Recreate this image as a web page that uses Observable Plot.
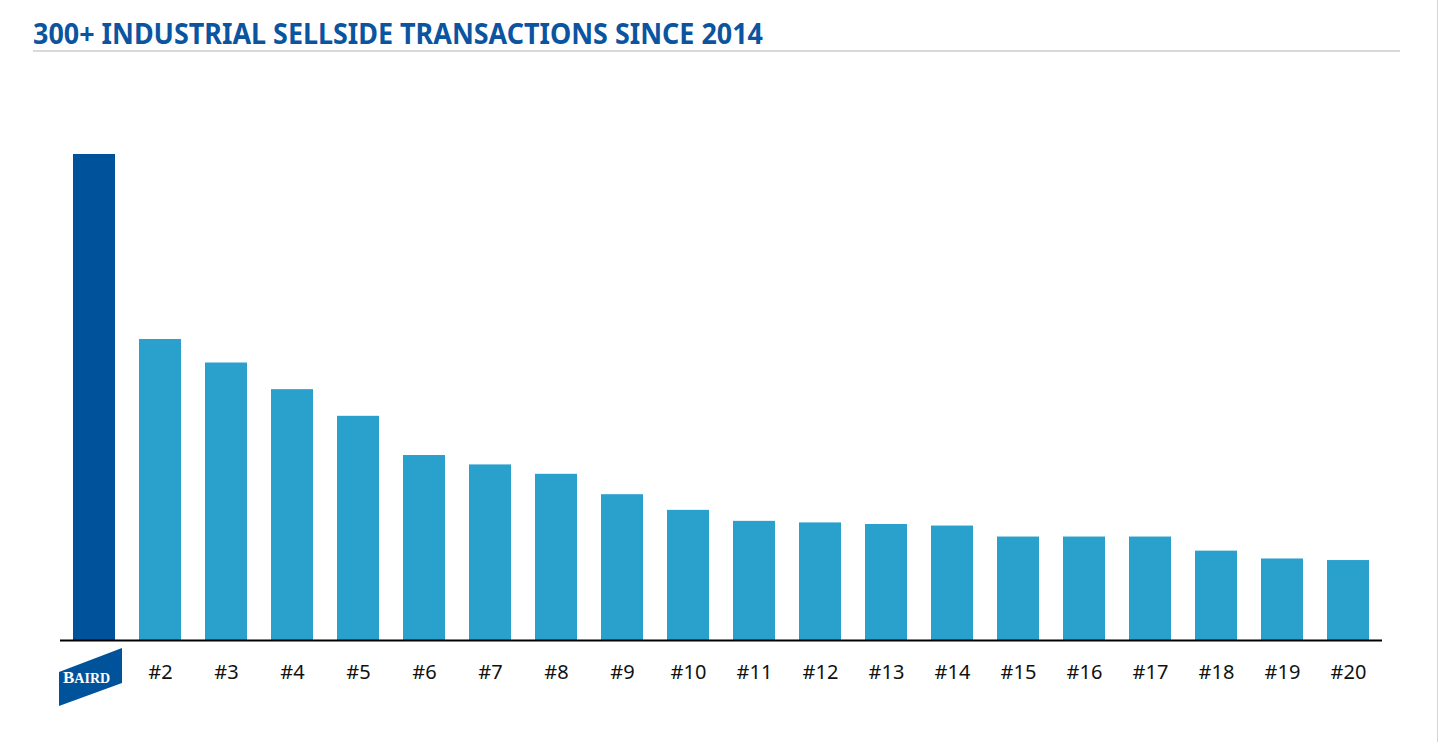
<!DOCTYPE html>
<html><head><meta charset="utf-8">
<script src="https://cdn.jsdelivr.net/npm/d3@7"></script>
<script src="https://cdn.jsdelivr.net/npm/@observablehq/plot@0.6"></script>
<style>
html,body{margin:0;padding:0;background:#fff;}
body{width:1439px;height:742px;overflow:hidden;position:relative;font-family:"Noto Sans",sans-serif;}
#edge{position:absolute;left:1437px;top:0;width:1px;height:742px;background:#d4d4d4;}
svg{display:block;}
</style>
</head><body>
<svg id="head" width="1439" height="60">
  <text x="33" y="44" font-family="Noto Sans" font-weight="bold" font-size="29" fill="#0b54a0" textLength="730" lengthAdjust="spacingAndGlyphs">300+ INDUSTRIAL SELLSIDE TRANSACTIONS SINCE 2014</text>
  <rect x="33" y="50" width="1367" height="2" fill="#d9d9d9"></rect>
</svg>
<div id="chart"></div>
<div id="edge"></div>
<script>
const categories = ["Baird","#2","#3","#4","#5","#6","#7","#8","#9","#10","#11","#12","#13","#14","#15","#16","#17","#18","#19","#20"];
const transactions = [310,192,177,160,143,118,112,106,93,83,76,75,74,73,66,66,66,57,52,51];
const logoLabel = ["B", "AIRD"];

const data = categories.map((c, i) => ({firm: c, value: transactions[i]}));

const logo = (index, scales, values, dimensions) => {
  const x = scales.x, y = scales.y;
  const bw = x.bandwidth ? x.bandwidth() : 42;
  const cx = x(categories[0]) + bw / 2;
  const y0 = y(0);
  const g = d3.create("svg:g");
  g.append("path")
    .attr("d", `M${cx-35},${y0+32}L${cx+28},${y0+8}L${cx+28},${y0+43}L${cx-35},${y0+66}Z`)
    .attr("fill", "#00539b");
  const t = g.append("text")
    .attr("x", cx - 31).attr("y", y0 + 43)
    .attr("text-anchor", "start")
    .attr("font-family", "Liberation Serif, DejaVu Serif, serif")
    .attr("font-weight", "bold")
    .attr("fill", "#fff");
  t.append("tspan").attr("font-size", 17).text(logoLabel[0]);
  t.append("tspan").attr("font-size", 14).text(logoLabel[1]);
  return g.node();
};

const chart = Plot.plot({
  width: 1439,
  height: 682,
  marginLeft: 48,
  marginRight: 45,
  marginTop: 94,
  marginBottom: 102,
  style: {fontFamily: "Noto Sans", background: "transparent"},
  x: {domain: categories, padding: 0.365, label: null},
  y: {domain: [0, 310], axis: null},
  marks: [
    Plot.barY(data, {x: "firm", y: "value", fill: d => d.firm === categories[0] ? "#00539b" : "#2aa0cc"}),
    Plot.ruleY([0], {stroke: "#000", strokeWidth: 2, insetLeft: 12, insetRight: 12}),
    Plot.axisX({tickSize: 0, tickPadding: 24, fontSize: 20, fill: "#111", tickFormat: d => d === categories[0] ? "" : d}),
    logo
  ]
});
document.getElementById("chart").appendChild(chart);
</script>
</body></html>
